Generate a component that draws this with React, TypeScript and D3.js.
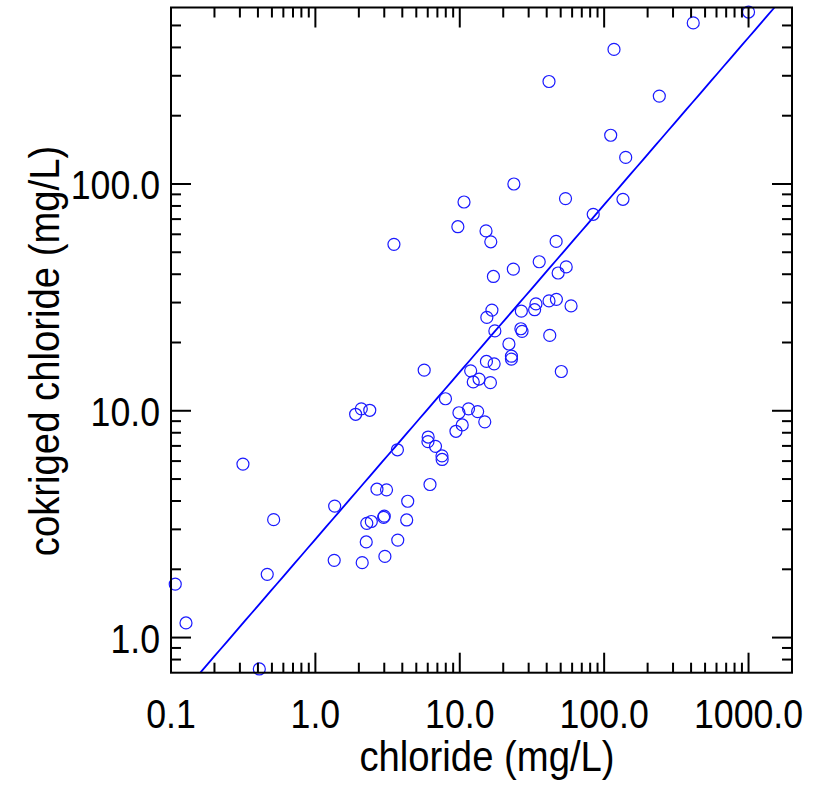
import React from 'react';
import * as d3 from 'd3';

// chloride (mg/L) measured vs cokriged chloride (mg/L)
const chloride = [
  1000, 414, 117, 41.5, 241, 111, 141, 23.7, 54, 135,
  10.7, 84, 9.7, 3.5, 15.2, 16.4, 46.5, 35.5, 23.5, 54.6,
  48, 17.1, 41.5, 46.7, 33.7, 33, 59, 26.7, 16.7, 15.4,
  26.5, 27, 17.5, 42, 21.9, 22.8, 22.8, 15.3, 17.3, 5.67,
  11.9, 50.5, 13.6, 12.4, 16.3, 7.96, 11.5, 13.3, 9.87, 1.9,
  2.08, 2.38, 14.9, 10.4, 9.41, 6.04, 6.02, 6.79, 3.7, 7.53,
  7.55, 0.315, 6.22, 2.67, 3.11, 4.36, 1.36, 2.97, 3.0, 0.514,
  2.27, 2.44, 4.29, 2.25, 3.72, 3.03, 1.35, 2.11, 0.464, 0.107,
  0.127, 0.409,
];
const cokriged = [
  573, 513, 392, 283, 244, 164, 131, 100, 86.2, 85.6,
  83.3, 73.5, 64.8, 54.2, 62.1, 55.6, 55.8, 45.4, 42.1, 43.1,
  40.5, 39.1, 30.5, 31.0, 29.6, 27.9, 29.0, 27.5, 27.8, 25.8,
  23.0, 22.4, 22.5, 21.5, 19.7, 17.4, 16.9, 16.5, 16.1, 15.1,
  15.0, 14.9, 13.8, 13.4, 13.3, 11.3, 10.2, 9.92, 9.8, 9.65,
  10.2, 10.05, 8.94, 8.66, 8.12, 7.66, 7.31, 6.97, 6.73, 6.33,
  6.1, 5.82, 4.73, 4.51, 4.48, 3.99, 3.8, 3.39, 3.43, 3.31,
  3.19, 3.25, 3.3, 2.64, 2.69, 2.28, 2.19, 2.14, 1.9, 1.72,
  1.16, 0.727,
];

const xTickValues = [0.1, 1, 10, 100, 1000];
const xTickLabels = ['0.1', '1.0', '10.0', '100.0', '1000.0'];
const yTickValues = [1, 10, 100];
const yTickLabels = ['1.0', '10.0', '100.0'];

// log10(y) = intercept + slope * log10(x)
const fitIntercept = 0.4334;
const fitSlope = 0.7375;

const xTitle = 'chloride (mg/L)';
const yTitle = 'cokriged chloride (mg/L)';

function minorTicks(lo: number, hi: number): number[] {
  const out: number[] = [];
  for (let e = -2; e <= 4; e++) {
    for (let k = 2; k <= 9; k++) {
      const v = k * Math.pow(10, e);
      if (v > lo * 1.0001 && v < hi * 0.9999) out.push(+v.toPrecision(6));
    }
  }
  return out;
}

export default function App() {
  const W = 813;
  const H = 786;
  const left = 171;
  const right = 792;
  const top = 7.5;
  const bottom = 672.7;
  const xDomain: [number, number] = [0.1, 2000];
  const yDomain: [number, number] = [0.7, 600];
  const x = d3.scaleLog().domain(xDomain).range([left, right]);
  const y = d3.scaleLog().domain(yDomain).range([bottom, top]);

  const xMinor = minorTicks(xDomain[0], xDomain[1]);
  const yMinor = minorTicks(yDomain[0], yDomain[1]);
  const MAJ = 20;
  const MIN = 10;
  const axisColor = '#000';
  const sw = 2;

  const fitXs = d3.range(0, 101).map((i) => Math.pow(10, Math.log10(xDomain[0]) + (i / 100) * (Math.log10(xDomain[1]) - Math.log10(xDomain[0]))));
  const fitLine = d3
    .line<number>()
    .x((d) => x(d))
    .y((d) => y(Math.pow(10, fitIntercept + fitSlope * Math.log10(d))));

  const font = '"Liberation Sans", Arial, sans-serif';
  const tickFs = 41;
  const tickSx = 0.87;
  const titleFs = 43;
  const titleSx = 0.89;

  return (
    <svg width={W} height={H} style={{ position: 'absolute', left: 0, top: 0 }} fontFamily={font}>
      <rect x={0} y={0} width={W} height={H} fill="#fff" />
      <defs>
        <clipPath id="plotClip">
          <rect x={left} y={top} width={right - left} height={bottom - top} />
        </clipPath>
      </defs>

      <g clipPath="url(#plotClip)">
        <path d={fitLine(fitXs) || ''} fill="none" stroke="#0000ff" strokeWidth={1.8} />
      </g>

      <g>
        {chloride.map((cx, i) => (
          <circle key={i} cx={x(cx)} cy={y(cokriged[i])} r={6} fill="none" stroke="#1a1aff" strokeWidth={1.2} />
        ))}
      </g>

      {/* ticks */}
      <g stroke={axisColor} strokeWidth={sw}>
        {xTickValues.map((v) => (
          <g key={'xM' + v}>
            <line x1={x(v)} x2={x(v)} y1={bottom} y2={bottom - MAJ} />
            <line x1={x(v)} x2={x(v)} y1={top} y2={top + MAJ} />
          </g>
        ))}
        {xMinor.map((v) => (
          <g key={'xm' + v}>
            <line x1={x(v)} x2={x(v)} y1={bottom} y2={bottom - MIN} />
            <line x1={x(v)} x2={x(v)} y1={top} y2={top + MIN} />
          </g>
        ))}
        {yTickValues.map((v) => (
          <g key={'yM' + v}>
            <line x1={left} x2={left + MAJ} y1={y(v)} y2={y(v)} />
            <line x1={right} x2={right - MAJ} y1={y(v)} y2={y(v)} />
          </g>
        ))}
        {yMinor.map((v) => (
          <g key={'ym' + v}>
            <line x1={left} x2={left + MIN} y1={y(v)} y2={y(v)} />
            <line x1={right} x2={right - MIN} y1={y(v)} y2={y(v)} />
          </g>
        ))}
      </g>

      <rect x={left} y={top} width={right - left} height={bottom - top} fill="none" stroke={axisColor} strokeWidth={sw} />

      {/* tick labels */}
      <g fontSize={tickFs} fill="#000">
        {xTickValues.map((v, i) => (
          <text key={'xl' + v} transform={`translate(${x(v)},${bottom + 55}) scale(${tickSx},1)`} textAnchor="middle">
            {xTickLabels[i]}
          </text>
        ))}
        {yTickValues.map((v, i) => (
          <text key={'yl' + v} transform={`translate(${left - 11},${y(v) + 15}) scale(${tickSx},1)`} textAnchor="end">
            {yTickLabels[i]}
          </text>
        ))}
      </g>

      {/* titles */}
      <text transform={`translate(${487},${771}) scale(${titleSx},1)`} textAnchor="middle" fontSize={titleFs} fill="#000">
        {xTitle}
      </text>
      <text transform={`translate(${59},${351}) rotate(-90) scale(${titleSx},1)`} textAnchor="middle" fontSize={titleFs} fill="#000">
        {yTitle}
      </text>
    </svg>
  );
}
